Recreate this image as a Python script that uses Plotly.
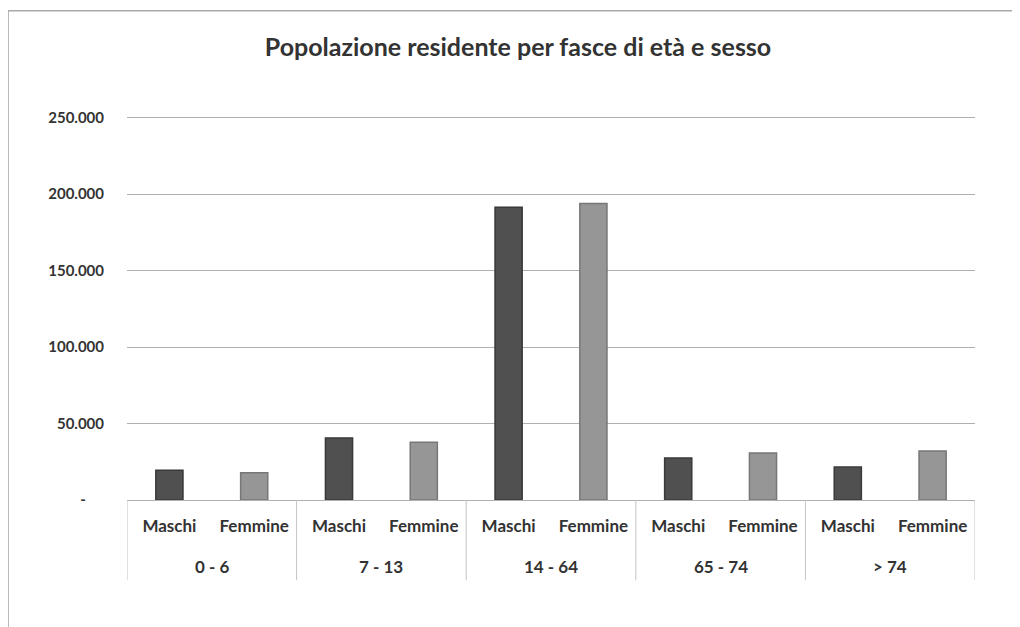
import plotly.graph_objects as go

# dati
fasce = ["0 - 6", "7 - 13", "14 - 64", "65 - 74", "> 74"]
sessi = ["Maschi", "Femmine"]
maschi = [19500, 40500, 191300, 27400, 21500]
femmine = [17800, 37800, 193800, 30700, 32000]
tick_vals = [0, 50000, 100000, 150000, 200000, 250000]
tick_text = ["-\u00a0\u00a0\u00a0\u00a0\u00a0", "50.000", "100.000",
             "150.000", "200.000", "250.000"]

# una barra per ogni coppia (fascia, sesso)
pos, labels, y_vals, colors, lines = [], [], [], [], []
for i, f in enumerate(fasce):
    for j, (s, v) in enumerate(zip(sessi, [maschi[i], femmine[i]])):
        pos.append(2 * i + j)
        labels.append(s)
        y_vals.append(v)
        colors.append("#505050" if s == "Maschi" else "#969696")
        lines.append("#393939" if s == "Maschi" else "#777777")

fig = go.Figure(go.Bar(
    x=pos,
    y=y_vals,
    marker=dict(color=colors, line=dict(color=lines, width=1.5)),
    width=0.32,
))

grey = "#b0b0b0"
shapes = [
    # cornice del grafico (solo lati superiore e sinistro visibili)
    dict(type="line", xref="paper", yref="paper",
         x0=-0.1403, x1=1.07, y0=1.274, y1=1.274,
         line=dict(color="#a8a8a8", width=1.5)),
    dict(type="line", xref="paper", yref="paper",
         x0=-0.1403, x1=-0.1403, y0=1.274, y1=-0.35,
         line=dict(color="#a8a8a8", width=1.5)),
]
# divisori tra le fasce
for k in range(len(fasce) + 1):
    shapes.append(dict(type="line", xref="x", yref="paper",
                       x0=2 * k - 0.5, x1=2 * k - 0.5, y0=0, y1=-0.209,
                       line=dict(color="#c4c4c4", width=1)))

annotations = [
    dict(text=f, x=2 * i + 0.5, xref="x", y=-0.172, yref="paper",
         showarrow=False, yanchor="middle",
         font=dict(size=17, weight="bold", color="#333333"))
    for i, f in enumerate(fasce)
]

fig.update_layout(
    width=1020, height=627,
    paper_bgcolor="white", plot_bgcolor="white",
    margin=dict(l=119, r=53, t=108, b=135),
    font=dict(family="Lato, sans-serif", color="#333333"),
    title=dict(
        text="Popolazione residente per fasce di età e sesso",
        x=0.5, xanchor="center", y=0.938, yanchor="middle",
        font=dict(size=25, weight="bold", color="#333333"),
    ),
    showlegend=False,
    xaxis=dict(
        range=[-0.5, 2 * len(fasce) - 0.5],
        tickvals=pos,
        ticktext=labels,
        showgrid=False,
        showline=False,
        zeroline=False,
        ticks="",
        ticklabelstandoff=14,
        tickfont=dict(size=17, weight="bold", color="#333333"),
    ),
    yaxis=dict(
        range=[0, 251000],
        tickvals=tick_vals,
        ticktext=tick_text,
        showgrid=True,
        gridcolor=grey,
        gridwidth=1,
        zeroline=True,
        zerolinecolor=grey,
        zerolinewidth=1,
        ticklabelstandoff=22,
        tickfont=dict(size=15, weight="bold", color="#333333"),
    ),
    shapes=shapes,
    annotations=annotations,
)

fig.write_html("out.html")
